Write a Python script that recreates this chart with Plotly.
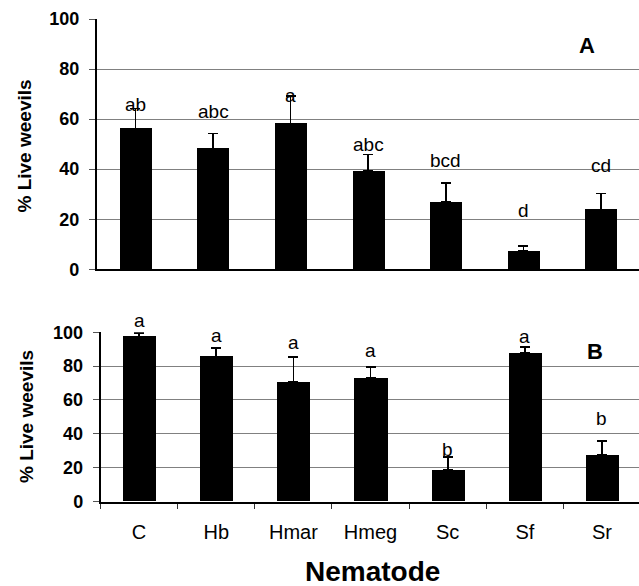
import plotly.graph_objects as go

categories = ["C", "Hb", "Hmar", "Hmeg", "Sc", "Sf", "Sr"]

# Panel A
mean_a = [56.3, 48.3, 58.3, 39.2, 26.9, 7.5, 23.9]
err_a = [8.0, 6.0, 11.0, 6.7, 7.6, 1.8, 6.4]
letters_a = ["ab", "abc", "a", "abc", "bcd", "d", "cd"]
letter_y_a = [66, 63, 69.6, 50, 43.4, 23.4, 41.4]

# Panel B
mean_b = [97.5, 85.7, 70.7, 73.0, 18.6, 87.7, 27.5]
err_b = [2.0, 5.0, 14.6, 6.4, 7.5, 3.6, 8.1]
letters_b = ["a", "a", "a", "a", "b", "a", "b"]
letter_y_b = [107, 98, 94, 89.5, 30.5, 97.8, 48.9]

y_ticks = [0, 20, 40, 60, 80, 100]

W, H = 639, 586
FONT = "Liberation Sans, Arial, sans-serif"

# pixel geometry of the two panels
A_TOP, A_BOT, A_LEFT, A_STEP = 19.0, 269.3, 96.6, 77.6
B_TOP, B_BOT, B_LEFT, B_STEP = 332.3, 501.5, 100.5, 77.15

fig = go.Figure()

err_style = dict(type="data", symmetric=False, color="black", thickness=1.7, width=5)

fig.add_trace(go.Bar(
    x=categories, y=mean_a, width=0.41, marker=dict(color="black", line=dict(width=0)),
    error_y=dict(array=err_a, arrayminus=[0] * len(err_a), **err_style),
    xaxis="x", yaxis="y", showlegend=False, hoverinfo="skip",
))
fig.add_trace(go.Bar(
    x=categories, y=mean_b, width=0.43, marker=dict(color="black", line=dict(width=0)),
    error_y=dict(array=err_b, arrayminus=[0] * len(err_b), **err_style),
    xaxis="x2", yaxis="y2", showlegend=False, hoverinfo="skip",
))


def letter_ann(c, t, yy, xref, yref, px_per_unit):
    y_in = min(yy, 99.9)
    return dict(x=c, y=y_in, xref=xref, yref=yref, text=t, showarrow=False,
                yshift=(yy - y_in) * px_per_unit,
                font=dict(family=FONT, size=19, color="black"),
                xanchor="center", yanchor="middle")


annotations = []
for c, t, yy in zip(categories, letters_a, letter_y_a):
    annotations.append(letter_ann(c, t, yy, "x", "y", (A_BOT - A_TOP) / 100))
for c, t, yy in zip(categories, letters_b, letter_y_b):
    annotations.append(letter_ann(c, t, yy, "x2", "y2", (B_BOT - B_TOP) / 100))


def paper_text(px, py, text, size, angle=0):
    return dict(x=px / W, y=1 - py / H, xref="paper", yref="paper", text=text,
                showarrow=False, textangle=angle,
                font=dict(family=FONT, size=size, color="black"),
                xanchor="center", yanchor="middle")


annotations.append(paper_text(587, 45, "<b>A</b>", 22))
annotations.append(paper_text(595, 351, "<b>B</b>", 22))
annotations.append(paper_text(372, 571, "<b>Nematode</b>", 28))
annotations.append(paper_text(24, 146.5, "<b>% Live weevils</b>", 19, -90))
annotations.append(paper_text(26, 417, "<b>% Live weevils</b>", 19, -90))

xa_range = [-0.5, -0.5 + (W - A_LEFT) / A_STEP]
xb_range = [-0.5, -0.5 + (W - B_LEFT) / B_STEP]

yaxis_common = dict(
    range=[0, 100], tickvals=y_ticks, showgrid=True, gridcolor="#808080", gridwidth=1,
    showline=True, linecolor="black", linewidth=1.5, ticks="outside", ticklen=6,
    tickcolor="#555555", tickfont=dict(family=FONT, size=18, color="black", weight="bold"),
    zeroline=False, fixedrange=True, automargin=False, ticklabelstandoff=6,
)

fig.update_layout(
    template="none",
    width=W, height=H, margin=dict(l=0, r=0, t=0, b=0, pad=0, autoexpand=False),
    paper_bgcolor="white", plot_bgcolor="white",
    font=dict(family=FONT, color="black"),
    bargap=0.0,
    xaxis=dict(domain=[A_LEFT / W, 1], range=xa_range, type="category",
               categoryorder="array", categoryarray=categories,
               showticklabels=False, ticks="", showline=True, linecolor="black", linewidth=2,
               showgrid=False, zeroline=False, anchor="y", automargin=False, fixedrange=True),
    yaxis=dict(domain=[1 - A_BOT / H, 1 - A_TOP / H], anchor="x", **yaxis_common),
    xaxis2=dict(domain=[B_LEFT / W, 1], range=xb_range, type="category",
                categoryorder="array", categoryarray=categories,
                showticklabels=True, ticks="outside", ticklen=5, tickcolor="#333333",
                tickson="boundaries", ticklabelstandoff=11,
                tickfont=dict(family=FONT, size=20, color="black"),
                showline=True, linecolor="black", linewidth=2, showgrid=False, zeroline=False,
                anchor="y2", automargin=False, fixedrange=True),
    yaxis2=dict(domain=[1 - B_BOT / H, 1 - B_TOP / H], anchor="x2", **yaxis_common),
    annotations=annotations,
)

fig.write_html("out.html", config={"displayModeBar": False},
               post_script="document.body.style.margin='0px';")
